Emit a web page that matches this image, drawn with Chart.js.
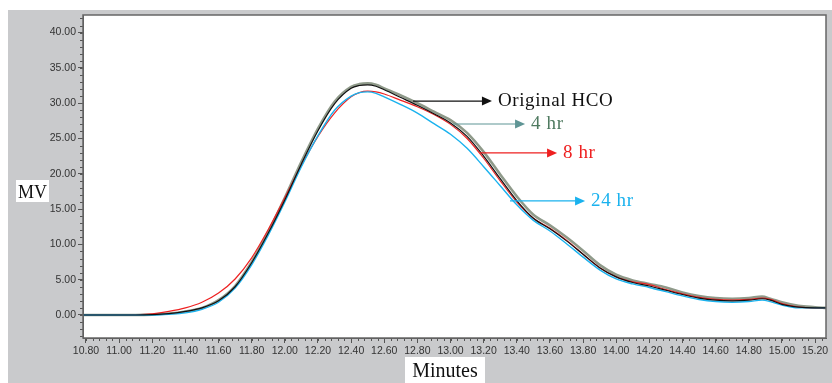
<!DOCTYPE html>
<html>
<head>
<meta charset="utf-8">
<script src="https://cdn.jsdelivr.net/npm/chart.js@4"></script>
<style>
  html, body { margin:0; padding:0; background:#fff; }
  #wrap { width:832px; height:383px; }
</style>
</head>
<body>
<div id="wrap"><canvas id="c" width="832" height="383"></canvas></div>
<script>

// ---- data ----
const minutes = [10.78, 11.0, 11.1, 11.2, 11.3, 11.4, 11.5, 11.6, 11.7, 11.8, 11.9, 12.0, 12.1, 12.2, 12.3, 12.4, 12.45, 12.5, 12.55, 12.6,
                 12.7, 12.8, 12.9, 13.0, 13.1, 13.2, 13.3, 13.4, 13.5, 13.6, 13.7, 13.8, 13.9, 14.0, 14.1, 14.2, 14.3, 14.4, 14.5, 14.6,
                 14.7, 14.8, 14.88, 14.93, 15.0, 15.1, 15.2, 15.266]

const originalHCO = [0, 0, 0, 0.05, 0.2, 0.5, 1.0, 2.0, 4.0, 7.4, 11.6, 16.3, 21.4, 26.1, 29.9, 32.1, 32.5, 32.6, 32.4, 31.9,
                     30.8, 29.7, 28.5, 27.2, 25.3, 22.5, 19.3, 16.2, 13.7, 12.2, 10.5, 8.6, 6.7, 5.4, 4.6, 4.1, 3.5, 2.9, 2.4, 2.1,
                     2.0, 2.1, 2.3, 2.1, 1.5, 1.1, 1.0, 1.0]

const hr4  = [0, 0, 0, 0.05, 0.2, 0.5, 1.0, 2.1, 4.1, 7.5, 11.8, 16.6, 21.7, 26.4, 30.2, 32.3, 32.7, 32.8, 32.6, 32.1,
              31.1, 30.0, 28.8, 27.6, 25.8, 23.1, 19.9, 16.8, 14.2, 12.7, 11.0, 9.1, 7.1, 5.7, 4.9, 4.4, 3.9, 3.2, 2.7, 2.4,
              2.3, 2.4, 2.6, 2.3, 1.8, 1.3, 1.1, 1.0]

const hr8  = [0, 0, 0.02, 0.15, 0.5, 1.0, 1.8, 3.1, 5.1, 8.1, 12.1, 16.6, 21.2, 25.3, 28.6, 30.9, 31.5, 31.7, 31.6, 31.3,
              30.4, 29.5, 28.4, 27.0, 25.0, 22.2, 19.0, 16.0, 13.7, 12.3, 10.6, 8.6, 6.7, 5.4, 4.7, 4.3, 3.6, 3.0, 2.5, 2.2,
              2.1, 2.2, 2.4, 2.2, 1.6, 1.1, 1.0, 1.0]

const hr24 = [0, 0, 0, 0, 0.1, 0.3, 0.8, 1.8, 3.8, 7.1, 11.3, 16.0, 21.0, 25.4, 29.0, 31.0, 31.5, 31.6, 31.4, 30.9,
              29.8, 28.6, 27.1, 25.6, 23.6, 21.0, 18.3, 15.6, 13.4, 11.9, 10.1, 8.2, 6.4, 5.1, 4.4, 3.9, 3.3, 2.7, 2.2, 1.9,
              1.8, 1.9, 2.1, 1.9, 1.4, 1.0, 1.0, 1.0]

const xTicks = [10.8, 11.0, 11.2, 11.4, 11.6, 11.8, 12.0, 12.2, 12.4, 12.6, 12.8, 13.0, 13.2, 13.4, 13.6, 13.8, 14.0, 14.2, 14.4, 14.6, 14.8, 15.0, 15.2]
const yTicks = [0, 5, 10, 15, 20, 25, 30, 35, 40]

// arrow labels: start on the curve, tip, text
const notes = [
  { label:'Original HCO', from:[12.774, 30.3],  to:13.25,  color:'#111111', text:'#111111' },
  { label:'4 hr',         from:[13.015, 27.05], to:13.45,  color:'#5f9595', text:'#4f7a60' },
  { label:'8 hr',         from:[13.178, 22.95], to:13.643, color:'#ee2020', text:'#ee2020' },
  { label:'24 hr',        from:[13.359, 16.15], to:13.812, color:'#1ab2ee', text:'#1ab2ee' },
]


const pts = (ys) => minutes.map((x, i) => ({ x:x, y:ys[i] }))

function line(label, ys, color, width){
      return { label:label, data:pts(ys), borderColor:color, borderWidth:width,
               pointRadius:0, cubicInterpolationMode:'monotone', fill:false }
}


const decor = {
      id: 'decor',

      beforeDraw(chart){
            const { ctx, chartArea:a, width, height } = chart
            ctx.save()
            ctx.fillStyle = '#ffffff'
            ctx.fillRect(0, 0, width, height)
            ctx.fillStyle = '#c9cacc'
            ctx.fillRect(8, 10, width - 8, height - 10)
            ctx.fillStyle = '#ffffff'
            ctx.fillRect(a.left, a.top, a.right - a.left, a.bottom - a.top)
            ctx.restore()
      },

      afterDraw(chart){
            const { ctx, chartArea:a } = chart
            const sx = chart.scales.x, sy = chart.scales.y
            ctx.save()

            //minor ticks
            ctx.strokeStyle = '#555'
            ctx.lineWidth = 1
            ctx.beginPath()
            for( let v = 10.8; v < sx.max; v += 0.04 ){
                  const p = Math.round(sx.getPixelForValue(v)) + 0.5
                  ctx.moveTo(p, a.bottom); ctx.lineTo(p, a.bottom + 3)
            }
            for( let v = -3; v < sy.max; v += 1 ){
                  const p = Math.round(sy.getPixelForValue(v)) + 0.5
                  ctx.moveTo(a.left, p); ctx.lineTo(a.left - 3, p)
            }
            ctx.stroke()

            //box round plot
            ctx.strokeStyle = '#666'
            ctx.lineWidth = 1.5
            ctx.strokeRect(a.left, a.top, a.right - a.left, a.bottom - a.top)

            //arrows + texts
            notes.forEach(n => {
                  const x0 = sx.getPixelForValue(n.from[0])
                  const y0 = sy.getPixelForValue(n.from[1])
                  const x1 = sx.getPixelForValue(n.to)
                  ctx.strokeStyle = n.color
                  ctx.fillStyle = n.color
                  ctx.lineWidth = 1.2
                  ctx.beginPath(); ctx.moveTo(x0, y0); ctx.lineTo(x1 - 8, y0); ctx.stroke()
                  ctx.beginPath(); ctx.moveTo(x1, y0); ctx.lineTo(x1 - 10, y0 - 4.5); ctx.lineTo(x1 - 10, y0 + 4.5); ctx.closePath(); ctx.fill()
                  ctx.fillStyle = n.text
                  ctx.font = '19px "Liberation Serif", "DejaVu Serif", serif'
                  ctx.letterSpacing = '0.6px'
                  ctx.textBaseline = 'middle'
                  ctx.textAlign = 'left'
                  ctx.fillText(n.label, x1 + 6, y0)
            })
            ctx.letterSpacing = '0px'

            //axis titles in white boxes
            ctx.fillStyle = '#fff'
            ctx.fillRect(16, 180, 33, 22)
            ctx.fillRect(405, 357, 80, 26)
            ctx.fillStyle = '#111'
            ctx.textAlign = 'center'
            ctx.textBaseline = 'alphabetic'
            ctx.font = '18px "Liberation Serif", serif'
            ctx.fillText('MV', 32.5, 198)
            ctx.font = '20px "Liberation Serif", serif'
            ctx.fillText('Minutes', 445, 377)

            ctx.restore()
      }
}


const tickFont = { family:'"Liberation Sans", Arial, sans-serif', size:10.5 }

const setup = {
      type: 'line',
      data: {
            datasets: [
                  line('Original HCO', originalHCO, '#111111', 1.2),
                  line('24 hr',        hr24,        '#1ab2ee', 1.4),
                  line('8 hr',         hr8,         '#ee2222', 1.2),
                  line('4 hr',         hr4,         '#8f9a8a', 2.6),
            ]
      },
      options: {
            responsive: false,
            animation: false,
            layout: { padding: { top:15, right:6, left:0, bottom:0 } },
            plugins: { legend:{ display:false }, tooltip:{ enabled:false } },
            scales: {
                  x: {
                        type: 'linear',
                        min: 10.782, max: 15.266,
                        afterBuildTicks: (s) => { s.ticks = xTicks.map(v => ({ value:v })) },
                        afterFit: (s) => { s.height = 45 },
                        ticks: { font:tickFont, color:'#333', padding:2, maxRotation:0, autoSkip:false,
                                 callback: (v) => Number(v).toFixed(2) },
                        grid: { drawOnChartArea:false, drawTicks:true, tickLength:5, color:'#555' },
                        border: { display:true, color:'#555' },
                  },
                  y: {
                        type: 'linear',
                        min: -3.26, max: 42.49,
                        afterBuildTicks: (s) => { s.ticks = yTicks.map(v => ({ value:v })) },
                        afterFit: (s) => { s.width = 83 },
                        ticks: { font:tickFont, color:'#333', padding:2, autoSkip:false,
                                 callback: (v) => Number(v).toFixed(2) },
                        grid: { drawOnChartArea:false, drawTicks:true, tickLength:5, color:'#555' },
                        border: { display:true, color:'#555' },
                  }
            }
      },
      plugins: [decor]
}

new Chart(document.getElementById('c'), setup)

</script>
</body>
</html>
